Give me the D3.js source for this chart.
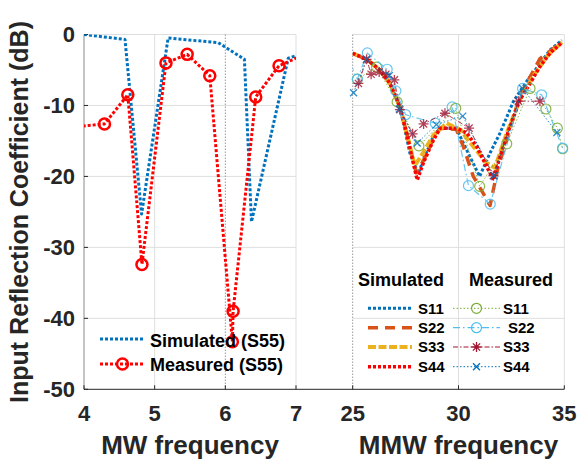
<!DOCTYPE html>
<html><head><meta charset="utf-8">
<script src="https://cdn.jsdelivr.net/npm/d3@7"></script>
<style>
html,body{margin:0;padding:0;background:#fff;}
svg{display:block;font-family:"Liberation Sans",Arial,Helvetica,sans-serif;font-weight:bold;}
</style></head>
<body><svg id="chart" width="582" height="460"></svg>
<script>
// ---------- DATA ----------
// Left panel (MW)
const mwTicks = [4, 5, 6, 7];
const yTicks = [0, -10, -20, -30, -40, -50];
const s55SimFreq = [4.0, 4.58, 4.815, 5.19, 5.9, 6.27, 6.37, 6.89, 7.0];
const s55SimVal  = [0.0, -0.7, -25.3, -0.5, -1.15, -3.5, -26.4, -3.35, -3.0];
const s55MeasFreq = [3.7, 4.29, 4.62, 4.82, 5.16, 5.46, 5.78, 6.10, 6.11, 6.43, 6.76, 7.1];
const s55MeasVal  = [-13.2, -12.6, -8.5, -32.4, -4.0, -2.8, -5.8, -43.3, -39.0, -8.8, -4.4, -2.9];

// Right panel (MMW)
const mmwTicks = [25, 30, 35];
const s11SimFreq = [25.0, 25.66, 26.29, 26.76, 27.23, 27.7, 28.1, 28.4, 28.8, 29.13, 29.9, 30.39, 31.0, 31.49, 31.96, 32.6, 33.22, 33.85, 34.32, 34.88];
const s11SimVal  = [-2.65, -3.5, -5.0, -6.9, -10.2, -16.7, -19.6, -17.2, -14.4, -13.2, -13.2, -16.3, -20.0, -16.7, -13.9, -9.4, -6.6, -4.1, -2.2, -0.8];
const s22SimFreq = [25.0, 25.66, 26.29, 26.76, 27.23, 27.55, 28.0, 28.34, 28.81, 29.13, 29.9, 30.23, 30.7, 31.17, 31.49, 31.88, 32.28, 32.9, 33.85, 34.88];
const s22SimVal  = [-2.65, -3.5, -5.0, -6.9, -10.2, -13.9, -19.5, -17.8, -14.7, -13.2, -13.4, -15.8, -20.0, -22.4, -24.1, -18.6, -14.9, -8.6, -3.4, -1.1];
const s33SimFreq = [25.0, 25.66, 26.29, 26.76, 27.23, 27.55, 27.93, 28.3, 28.81, 29.44, 30.07, 30.7, 31.33, 31.72, 32.28, 32.9, 33.53, 34.2, 34.88];
const s33SimVal  = [-2.65, -3.5, -5.0, -6.9, -10.2, -13.9, -18.5, -16.8, -14.2, -12.5, -13.4, -15.8, -18.1, -18.8, -13.9, -9.2, -5.9, -3.0, -1.1];
const s44SimFreq = [25.0, 25.66, 26.29, 26.76, 27.23, 27.55, 27.86, 28.05, 28.34, 28.81, 29.13, 29.91, 30.39, 30.86, 31.33, 31.65, 31.96, 32.43, 32.9, 33.38, 33.85, 34.32, 34.88];
const s44SimVal  = [-2.65, -3.5, -5.0, -6.9, -10.2, -13.9, -18.1, -20.5, -18.1, -14.9, -13.2, -13.2, -13.9, -15.8, -18.6, -20.5, -17.2, -13.0, -9.2, -6.9, -4.5, -2.65, -1.15];

const s11MeasFreq = [25.22, 26.13, 27.1, 28.13, 29.87, 31.0, 32.28, 33.38, 34.13, 34.67, 34.92];
const s11MeasVal  = [-6.3, -4.6, -9.5, -15.7, -10.4, -21.4, -15.4, -7.6, -10.5, -13.2, -16.1];
const s22MeasFreq = [24.9, 25.22, 25.69, 26.63, 27.04, 27.5, 28.9, 29.7, 30.47, 31.5, 33.03, 33.93, 34.92];
const s22MeasVal  = [-4.2, -6.3, -2.6, -4.9, -7.95, -11.3, -12.5, -10.2, -21.3, -23.9, -7.6, -8.5, -16.0];
const s33MeasFreq = [25.27, 25.66, 25.87, 26.25, 26.57, 26.97, 27.23, 27.83, 28.35, 29.36, 30.5, 31.65, 32.83, 33.85];
const s33MeasVal  = [-6.9, -3.5, -5.6, -5.3, -5.6, -6.4, -10.6, -14.0, -12.6, -11.1, -13.2, -19.9, -9.4, -9.4];
const s44MeasFreq = [25.04, 25.65, 26.73, 27.2, 28.05, 28.95, 30.2, 31.68, 33.03, 34.65];
const s44MeasVal  = [-8.2, -3.5, -5.8, -10.5, -15.3, -12.7, -11.5, -19.9, -7.6, -13.8];

const legendLeft = ["Simulated (S55)", "Measured (S55)"];
const legendRightHeads = ["Simulated", "Measured"];
const legendRightItems = ["S11", "S22", "S33", "S44"];

// ---------- SETUP ----------
const svg = d3.select("#chart");
const plotTop = 34.5, plotBottom = 389.3;
const y = d3.scaleLinear().domain([-50, 0]).range([plotBottom, plotTop]);
const xL = d3.scaleLinear().domain([4, 7]).range([84, 296]);
const xR = d3.scaleLinear().domain([25, 35]).range([352.7, 564.3]);
const gridC = "#dedede", textC = "#262626";

const defs = svg.append("defs");
defs.append("clipPath").attr("id","clipL").append("rect").attr("x",84).attr("y",plotTop).attr("width",212).attr("height",plotBottom-plotTop);
defs.append("clipPath").attr("id","clipR").append("rect").attr("x",352.7).attr("y",plotTop).attr("width",211.6).attr("height",plotBottom-plotTop);

function grid(x, xs, dotted) {
  const g = svg.append("g");
  const [x0, x1] = x.range();
  yTicks.filter(v => v > -50).forEach(v => {
    g.append("line").attr("x1",x0).attr("x2",x1).attr("y1",y(v)).attr("y2",y(v)).attr("stroke",gridC).attr("stroke-width",1);
  });
  xs.forEach(v => {
    g.append("line").attr("x1",x(v)).attr("x2",x(v)).attr("y1",plotTop).attr("y2",plotBottom).attr("stroke",gridC).attr("stroke-width",1);
  });
  dotted.forEach(v => {
    g.append("line").attr("x1",x(v)).attr("x2",x(v)).attr("y1",plotTop).attr("y2",plotBottom).attr("stroke","#9a9a9a").attr("stroke-width",1).attr("stroke-dasharray","1.5,1.5");
  });
}
grid(xL, [5, 7], [6]);
grid(xR, [30, 35], [25]);

// axes
svg.append("line").attr("x1",84).attr("x2",84).attr("y1",plotTop).attr("y2",plotBottom).attr("stroke","#8a8a8a").attr("stroke-width",1);
svg.append("line").attr("x1",84).attr("x2",564.3).attr("y1",plotBottom).attr("y2",plotBottom).attr("stroke","#262626").attr("stroke-width",1);
yTicks.forEach(v => {
  svg.append("line").attr("x1",84).attr("x2",88).attr("y1",y(v)).attr("y2",y(v)).attr("stroke","#262626");
  svg.append("text").attr("x",75).attr("y",y(v)).attr("dy","0.36em").attr("text-anchor","end")
    .attr("font-size",22).attr("fill",textC).text(v);
});
function xticks(x, ticks) {
  ticks.forEach(v => {
    svg.append("line").attr("x1",x(v)).attr("x2",x(v)).attr("y1",plotBottom).attr("y2",plotBottom-4).attr("stroke","#262626");
    svg.append("text").attr("x",x(v)).attr("y",420.5).attr("text-anchor","middle")
      .attr("font-size",22).attr("fill",textC).text(v);
  });
}
xticks(xL, mwTicks);
xticks(xR, mmwTicks);

svg.append("text").attr("x",190).attr("y",454).attr("text-anchor","middle").attr("font-size",26).attr("fill",textC).text("MW frequency");
svg.append("text").attr("x",458.5).attr("y",454).attr("text-anchor","middle").attr("font-size",26).attr("fill",textC).text("MMW frequency");
svg.append("text").attr("transform","translate(28,212) rotate(-90)").attr("text-anchor","middle").attr("font-size",25).attr("fill",textC).text("Input Reflection Coefficient (dB)");

// ---------- MARKERS ----------
function marker(g, kind, cx, cy, color, r, sw) {
  if (kind === "o") {
    g.append("circle").attr("cx",cx).attr("cy",cy).attr("r",r).attr("fill","none").attr("stroke",color).attr("stroke-width",sw);
  } else if (kind === "*") {
    const d = r * 0.72;
    g.append("path").attr("d",`M${cx-r},${cy}L${cx+r},${cy}M${cx},${cy-r}L${cx},${cy+r}M${cx-d},${cy-d}L${cx+d},${cy+d}M${cx-d},${cy+d}L${cx+d},${cy-d}`)
      .attr("stroke",color).attr("stroke-width",sw).attr("fill","none");
  } else if (kind === "x") {
    g.append("path").attr("d",`M${cx-r},${cy-r}L${cx+r},${cy+r}M${cx-r},${cy+r}L${cx+r},${cy-r}`)
      .attr("stroke",color).attr("stroke-width",sw).attr("fill","none");
  }
}

function series(x, clip, fr, vals, color, width, dash, mk, mr, msw, opacity) {
  const pts = fr.map((f, i) => [f, vals[i]]);
  const g = svg.append("g").attr("opacity", opacity || 1);
  g.append("path").attr("clip-path",`url(#${clip})`)
    .attr("d", d3.line().x(d => x(d[0])).y(d => y(d[1]))(pts))
    .attr("fill","none").attr("stroke",color).attr("stroke-width",width)
    .attr("stroke-dasharray",dash).attr("stroke-linejoin","round");
  if (mk) {
    const [d0, d1] = x.domain();
    pts.filter(p => p[0] >= d0 && p[0] <= d1).forEach(p => marker(g, mk, x(p[0]), y(p[1]), color, mr, msw));
  }
}

// Left panel
series(xL, "clipL", s55SimFreq, s55SimVal, "#0072BD", 3, "3,2");
series(xL, "clipL", s55MeasFreq, s55MeasVal, "#FF0000", 3, "3,2", "o", 5.5, 2.5);

// Right panel simulated
series(xR, "clipR", s11SimFreq, s11SimVal, "#0072BD", 3, "3,2");
series(xR, "clipR", s22SimFreq, s22SimVal, "#D95319", 3.5, "10,7");
series(xR, "clipR", s33SimFreq, s33SimVal, "#EDB120", 4, "8,2.5");
series(xR, "clipR", s44SimFreq, s44SimVal, "#FF0000", 3.5, "3,2");
// Right panel measured
series(xR, "clipR", s11MeasFreq, s11MeasVal, "#77AC30", 1, "1.5,2", "o", 5, 1.2, 0.85);
series(xR, "clipR", s22MeasFreq, s22MeasVal, "#4DBEEE", 1.2, "7,3,1.5,3", "o", 5, 1.2, 0.85);
series(xR, "clipR", s33MeasFreq, s33MeasVal, "#A2142F", 1, "5,2,1.5,2", "*", 5, 1.3, 0.8);
series(xR, "clipR", s44MeasFreq, s44MeasVal, "#0072BD", 1, "1.5,2", "x", 3.5, 1.3, 0.8);

// ---------- LEGENDS ----------
const lg = svg.append("g");
function sample(x1, x2, yy, color, width, dash, mk, mr, msw) {
  lg.append("line").attr("x1",x1).attr("x2",x2).attr("y1",yy).attr("y2",yy)
    .attr("stroke",color).attr("stroke-width",width).attr("stroke-dasharray",dash);
  if (mk) marker(lg, mk, (x1+x2)/2, yy, color, mr, msw);
}
sample(100, 145, 339, "#0072BD", 3, "3,2");
sample(100, 145, 364, "#FF0000", 3, "3,2", "o", 5.5, 2.5);
lg.append("text").attr("x",150).attr("y",346.5).attr("font-size",18).attr("fill","#000").text(legendLeft[0]);
lg.append("text").attr("x",150).attr("y",371).attr("font-size",18).attr("fill","#000").text(legendLeft[1]);

lg.append("text").attr("x",358).attr("y",285.5).attr("font-size",18).attr("fill","#000").text(legendRightHeads[0]);
lg.append("text").attr("x",469).attr("y",285.5).attr("font-size",18).attr("fill","#000").text(legendRightHeads[1]);
const rowY = [308.3, 327.7, 347, 366.7];
const simStyles = [["#0072BD",3,"3,2"],["#D95319",3.5,"10,7"],["#EDB120",4,"8,2.5"],["#FF0000",3.5,"3,2"]];
const measStyles = [["#77AC30",1,"1.5,2","o",5,1.2],["#4DBEEE",1.2,"7,3,1.5,3","o",5,1.2],["#A2142F",1,"5,2,1.5,2","*",5,1.3],["#0072BD",1,"1.5,2","x",3.5,1.3]];
const measLabelX = [503, 508, 503, 503];
legendRightItems.forEach((lab, i) => {
  const s = simStyles[i], m = measStyles[i];
  sample(368, 412, rowY[i], s[0], s[1], s[2]);
  lg.append("text").attr("x",418).attr("y",rowY[i]+5.3).attr("font-size",15).attr("fill","#000").text(lab);
  sample(453, 500, rowY[i], m[0], m[1], m[2], m[3], m[4], m[5]);
  lg.append("text").attr("x",measLabelX[i]).attr("y",rowY[i]+5.3).attr("font-size",15).attr("fill","#000").text(lab);
});
</script></body></html>
